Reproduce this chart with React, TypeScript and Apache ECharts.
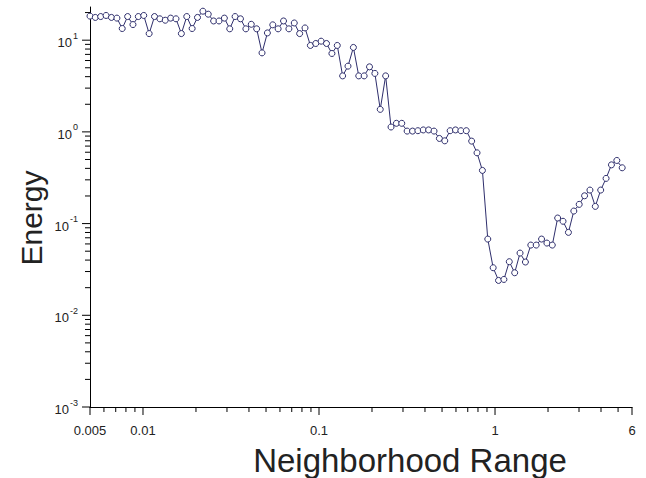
import React, { useEffect, useRef } from "react";
import * as echarts from "echarts";

const xValues = [
  0.005, 0.00536, 0.00575, 0.00617, 0.00662, 0.00711, 0.00762, 0.00818, 0.00877, 0.00941,
  0.0101, 0.01084, 0.01163, 0.01247, 0.01338, 0.01436, 0.0154, 0.01652, 0.01773, 0.01902,
  0.0204, 0.02189, 0.02348, 0.02519, 0.02703, 0.029, 0.03111, 0.03337, 0.0358, 0.03841,
  0.04123, 0.04423, 0.04745, 0.05091, 0.05462, 0.05859, 0.06286, 0.06744, 0.07235, 0.07762,
  0.08327, 0.08934, 0.09584, 0.1028, 0.1103, 0.1184, 0.127, 0.1362, 0.1461, 0.1568,
  0.1682, 0.1805, 0.1936, 0.2077, 0.2228, 0.2391, 0.2565, 0.2752, 0.2952, 0.3167,
  0.3399, 0.3646, 0.3911, 0.4196, 0.4502, 0.483, 0.5181, 0.5559, 0.5963, 0.6398,
  0.6866, 0.7366, 0.7902, 0.8478, 0.9095, 0.9758, 1.047, 1.123, 1.205, 1.293,
  1.387, 1.488, 1.597, 1.713, 1.838, 1.971, 2.115, 2.269, 2.434, 2.612,
  2.803, 3.007, 3.226, 3.461, 3.713, 3.984, 4.274, 4.585, 4.919, 5.278,
];

const energy = [
  18.3, 17.7, 18.1, 18.6, 17.7, 17.4, 13.4, 18.1, 14.8, 18.1,
  18.6, 11.8, 18.1, 17.1, 16.5, 17.4, 17.1, 11.8, 18.1, 13.4,
  17.7, 20.7, 19.2, 16.2, 16.2, 17.4, 13.3, 18.1, 17.1, 13.3,
  14.9, 13.3, 7.27, 12.0, 14.7, 13.3, 16.2, 13.3, 15.4, 11.8,
  13.6, 8.76, 9.2, 9.75, 9.2, 7.16, 8.76, 4.08, 5.21, 8.33,
  4.08, 4.08, 5.12, 4.34, 1.76, 4.08, 1.13, 1.24, 1.24, 1.02,
  1.02, 1.03, 1.05, 1.05, 1.02, 0.848, 0.799, 1.03, 1.05, 1.03,
  1.03, 0.793, 0.591, 0.38, 0.0678, 0.033, 0.024, 0.0246, 0.0384, 0.0291,
  0.0477, 0.0381, 0.0583, 0.0583, 0.0678, 0.0613, 0.0583, 0.115, 0.106, 0.0802,
  0.137, 0.162, 0.201, 0.232, 0.154, 0.232, 0.311, 0.437, 0.488, 0.406,
];

const xMajorTicks = [0.005, 0.01, 0.1, 1, 6];
const xMinorTicks = [
  0.006, 0.007, 0.008, 0.009,
  0.02, 0.03, 0.04, 0.05, 0.06, 0.07, 0.08, 0.09,
  0.2, 0.3, 0.4, 0.5, 0.6, 0.7, 0.8, 0.9,
  2, 3, 4, 5,
];
const yMajorTicks = [0.001, 0.01, 0.1, 1, 10];
const yMinorTicks = [
  0.002, 0.003, 0.004, 0.005, 0.006, 0.007, 0.008, 0.009,
  0.02, 0.03, 0.04, 0.05, 0.06, 0.07, 0.08, 0.09,
  0.2, 0.3, 0.4, 0.5, 0.6, 0.7, 0.8, 0.9,
  2, 3, 4, 5, 6, 7, 8, 9,
  20,
];

const X_MIN = 0.005;
const X_MAX = 6;
const Y_MIN = 0.001;
const Y_MAX = 23;

const FONT = "Liberation Sans, Arial, sans-serif";
const LINE_COLOR = "#2e2e6c";

const titles = [
  {
    type: "text",
    id: "ytitle",
    x: 31,
    y: 218,
    rotation: Math.PI / 2,
    style: {
      text: "Energy",
      fontSize: 30,
      fontFamily: FONT,
      fill: "#222",
      align: "center",
      verticalAlign: "middle",
    },
  },
  {
    type: "text",
    id: "xtitle",
    x: 410,
    y: 460,
    style: {
      text: "Neighborhood Range",
      fontSize: 33,
      fontFamily: FONT,
      fill: "#222",
      align: "center",
      verticalAlign: "middle",
    },
  },
];

export default function App() {
  const ref = useRef<HTMLDivElement>(null);

  useEffect(() => {
    if (!ref.current) return;
    const chart = echarts.init(ref.current, null, { renderer: "svg" });
    chart.setOption({
      animation: false,
      backgroundColor: "#fff",
      grid: { left: 90, right: 14, top: 7, bottom: 71, containLabel: false },
      xAxis: {
        type: "log",
        logBase: 10,
        min: X_MIN,
        max: X_MAX,
        axisLine: { onZero: false, lineStyle: { color: "#000", width: 1 } },
        axisTick: { show: false },
        splitLine: { show: false },
        axisLabel: {
          show: true,
          showMinLabel: true,
          showMaxLabel: true,
          margin: 17,
          color: "#222",
          fontSize: 13,
          fontFamily: FONT,
          formatter: (v: number) => {
            const hit = xMajorTicks.find((t) => Math.abs(v - t) / t < 0.01);
            return hit === undefined ? "" : String(hit);
          },
        },
      },
      yAxis: {
        type: "log",
        logBase: 10,
        min: Y_MIN,
        max: Y_MAX,
        axisLine: { onZero: false, lineStyle: { color: "#000", width: 1 } },
        axisTick: { show: false },
        splitLine: { show: false },
        axisLabel: {
          show: true,
          showMinLabel: true,
          showMaxLabel: true,
          margin: 12,
          color: "#222",
          fontFamily: FONT,
          formatter: (v: number) => {
            const hit = yMajorTicks.find((t) => Math.abs(v - t) / t < 0.01);
            if (hit === undefined) return "";
            const e = Math.round(Math.log10(hit));
            return `{b|10}{s|${e}}`;
          },
          rich: {
            b: { fontSize: 13, fontFamily: FONT, color: "#222", lineHeight: 18, verticalAlign: "bottom" },
            s: { fontSize: 9, fontFamily: FONT, color: "#222", lineHeight: 18, verticalAlign: "top", padding: [0, 0, 0, 1] },
          },
        },
      },
      graphic: titles,
      series: [
        {
          type: "line",
          data: xValues.map((x, i) => [x, energy[i]]),
          symbol: "circle",
          symbolSize: 6,
          showAllSymbol: true,
          lineStyle: { color: LINE_COLOR, width: 1 },
          itemStyle: { color: "#fff", borderColor: LINE_COLOR, borderWidth: 1 },
          z: 10,
        },
      ],
    });

    // ticks placed through the axes' own scales
    const x0 = chart.convertToPixel({ xAxisIndex: 0 }, X_MIN) as number;
    const y0 = chart.convertToPixel({ yAxisIndex: 0 }, Y_MIN) as number;
    const tickEls: any[] = [];
    const addX = (vals: number[], len: number, tag: string) =>
      vals.forEach((v, i) => {
        const px = chart.convertToPixel({ xAxisIndex: 0 }, v) as number;
        tickEls.push({
          type: "line",
          id: `${tag}${i}`,
          z: 20,
          silent: true,
          shape: { x1: px, y1: y0, x2: px, y2: y0 + len },
          style: { stroke: "#000", lineWidth: 1 },
        });
      });
    const addY = (vals: number[], len: number, tag: string) =>
      vals.forEach((v, i) => {
        const py = chart.convertToPixel({ yAxisIndex: 0 }, v) as number;
        tickEls.push({
          type: "line",
          id: `${tag}${i}`,
          z: 20,
          silent: true,
          shape: { x1: x0 - len, y1: py, x2: x0, y2: py },
          style: { stroke: "#000", lineWidth: 1 },
        });
      });
    addX(xMajorTicks, 8, "xM");
    addX(xMinorTicks, 5, "xm");
    addY(yMajorTicks, 8, "yM");
    addY(yMinorTicks, 5, "ym");
    chart.setOption({ graphic: [...titles, ...tickEls] });

    return () => chart.dispose();
  }, []);

  return (
    <div
      ref={ref}
      style={{ position: "fixed", left: 0, top: 0, width: 646, height: 478, background: "#fff" }}
    />
  );
}
